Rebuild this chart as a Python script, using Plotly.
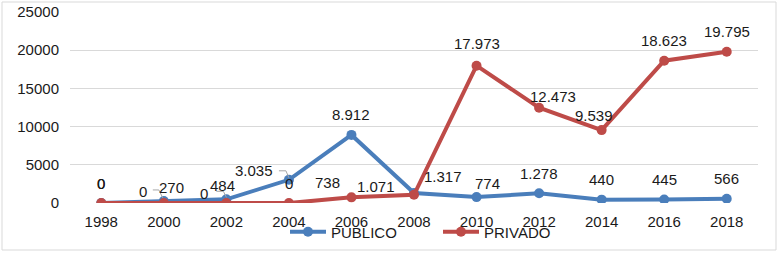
import plotly.graph_objects as go

years = ['1998', '2000', '2002', '2004', '2006', '2008', '2010', '2012', '2014', '2016', '2018']
publico = [0, 270, 484, 3035, 8912, 1317, 774, 1278, 440, 445, 566]
privado = [0, 0, 0, 0, 738, 1071, 17973, 12473, 9539, 18623, 19795]

BLUE = '#4A7EBB'
RED = '#BE4B48'
FONT = 'Liberation Sans, Arial, sans-serif'
FS = 15

# label offsets in pixels (dx, dy up)
pub_off = [(0, 20), (8, 13), (-4, 14), (-35, 9), (0, 20), (29, 16), (11, 14),
           (0, 20), (0, 20), (0, 20), (0, 20)]
pri_off = [(0, 20), (-21, 12), (-22, 10), (0, 20), (-24, 15), (-38, 8), (0, 22),
           (14, 11), (-8, 15), (0, 20), (0, 20)]
# leader lines (index of PUBLICO point -> pixel path relative to point)
leaders = {1: 'M-11,11 L-5,11 L-1,3', 2: 'M-10,8 L-3,8 L0,2', 3: 'M-10,9 L-3,9 L0,2'}


def fmt(v):
    return f"{v:,}".replace(',', '.')


fig = go.Figure()
fig.add_trace(go.Scatter(x=years, y=publico, name='PUBLICO', mode='lines+markers',
                         line=dict(color=BLUE, width=4), marker=dict(size=10, color=BLUE)))
fig.add_trace(go.Scatter(x=years, y=privado, name='PRIVADO', mode='lines+markers',
                         line=dict(color=RED, width=4), marker=dict(size=10, color=RED)))

for vals, offs in ((publico, pub_off), (privado, pri_off)):
    for i, (v, (dx, dy)) in enumerate(zip(vals, offs)):
        fig.add_annotation(x=i, y=v, xref='x', yref='y', text=fmt(v), showarrow=False,
                           xshift=dx, yshift=dy,
                           font=dict(family=FONT, size=FS, color='#1a1a1a'))

W, H = 778, 254
L, R, T, B = 70, 20, 12, 51
pw, ph = W - L - R, H - T - B

shapes = [dict(type='rect', xref='paper', yref='paper',
               x0=(2 - L) / pw, x1=(W - 2 - L) / pw,
               y0=(T + ph - (H - 4)) / ph, y1=(T + ph - 2) / ph,
               line=dict(color='#d9d9d9', width=1), layer='below')]
for i, p in leaders.items():
    shapes.append(dict(type='path', xref='x', yref='y', xsizemode='pixel', ysizemode='pixel',
                       xanchor=i, yanchor=publico[i], path=p,
                       line=dict(color='#a6a6a6', width=1), layer='above'))

fig.update_layout(
    width=W, height=H,
    margin=dict(l=L, r=R, t=T, b=B, autoexpand=False),
    paper_bgcolor='white', plot_bgcolor='white',
    font=dict(family=FONT, size=FS, color='#1a1a1a'),
    xaxis=dict(type='category', range=[-0.5, 10.5], showgrid=False, showline=False,
               zeroline=False, ticks='', tickfont=dict(size=FS), automargin=False,
               ticklabelstandoff=8),
    yaxis=dict(range=[0, 25000], dtick=5000, showgrid=True, gridcolor='#d9d9d9', gridwidth=1,
               zeroline=False, showline=False, ticks='', tickfont=dict(size=FS),
               tickformat='d', automargin=False, ticklabelstandoff=10),
    legend=dict(orientation='h', x=(285 - L) / pw, xanchor='left', y=-(232 - 203) / 191,
                yanchor='middle', font=dict(size=FS), bgcolor='rgba(0,0,0,0)',
                itemwidth=36, entrywidth=102),
    shapes=shapes,
    showlegend=True,
)

fig.write_html('out.html', config={'displayModeBar': False},
               post_script="document.body.style.margin='0';")
